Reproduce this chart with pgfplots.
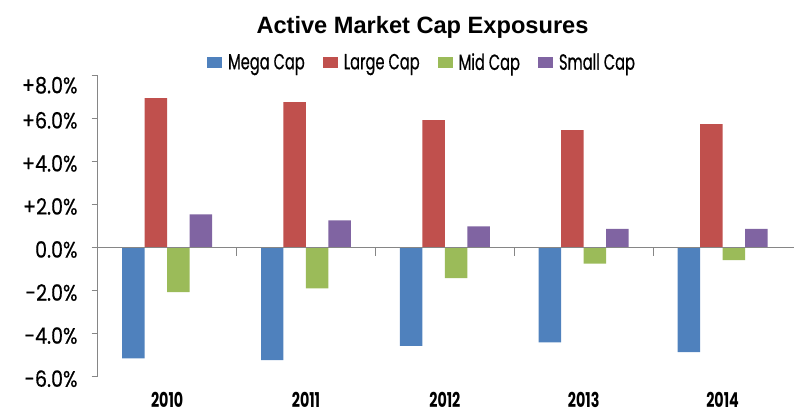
\documentclass[border=0pt]{standalone}
\usepackage{fontspec}
\usepackage{pgfplots}
\pgfplotsset{compat=1.18}
\newfontfamily\condfont[FakeStretch=0.67, FakeBold=0.5]{Poppins}
\newfontfamily\yearfont[FakeStretch=0.7]{Poppins}
\newfontfamily\tickfont[FakeStretch=0.85, FakeBold=0.5]{Poppins}
\newfontfamily\titlefont{Liberation Sans}
\definecolor{cmega}{HTML}{4F81BD}
\definecolor{clarge}{HTML}{C0504D}
\definecolor{cmid}{HTML}{9BBB59}
\definecolor{csmall}{HTML}{8064A2}
\definecolor{axgray}{RGB}{134,134,134}
\begin{document}
\begin{tikzpicture}
\path[use as bounding box] (0,0) rectangle (794bp,414bp);
\node[anchor=base, font=\titlefont\bfseries\fontsize{23.7}{28}\selectfont] at (422.5bp,380.7bp) {Active Market Cap Exposures};
\begin{axis}[
  at={(97.7bp,37.3bp)}, anchor=south west,
  width=694.3bp, height=301.4bp, scale only axis,
  xmin=-0.5, xmax=4.5, ymin=-6, ymax=8,
  axis x line=bottom, axis y line=left,
  axis line style={-},
  x axis line style={draw=none},
  y axis line style={axgray, line width=1bp},
  xtick={0,1,2,3,4},
  xticklabels={2010,2011,2012,2013,2014},
  xtick style={draw=none},
  ytick={-6,-4,-2,0,2,4,6},
  yticklabels={-6.0\%,-4.0\%,-2.0\%,0.0\%,+2.0\%,+4.0\%,+6.0\%},
  extra y ticks={8},
  extra y tick labels={+8.0\%},
  extra y tick style={yticklabel style={yshift=-8bp}},
  tick align=outside,
  major tick length=6bp,
  ytick style={axgray, line width=1bp},
  yticklabel style={font=\tickfont\fontsize{22.5}{26}\selectfont, inner sep=0pt, anchor=east, xshift=-14bp, yshift=-2bp},
  xticklabel style={font=\yearfont\bfseries\fontsize{20.5}{24}\selectfont, inner sep=0pt, anchor=north, yshift=-9bp},
  ybar=0pt, bar width=0.162,
  legend columns=4,
  legend style={at={(0.4657,1.043)}, anchor=center, draw=none, fill=none,
    font=\condfont\fontsize{22}{26}\selectfont,
    /tikz/every odd column/.append style={column sep=6bp},
    /tikz/every even column/.append style={column sep=18bp},
    nodes={inner sep=0pt}},
  legend image code/.code={\fill[#1] (0bp,-5.5bp) rectangle (15bp,5.5bp);},
  clip=false,
]
\addplot[fill=cmega, draw=none] coordinates {(0,-5.15) (1,-5.23) (2,-4.57) (3,-4.40) (4,-4.86)};
\addplot[fill=clarge, draw=none] coordinates {(0,6.94) (1,6.75) (2,5.92) (3,5.45) (4,5.73)};
\addplot[fill=cmid, draw=none] coordinates {(0,-2.07) (1,-1.90) (2,-1.42) (3,-0.75) (4,-0.58)};
\addplot[fill=csmall, draw=none] coordinates {(0,1.54) (1,1.26) (2,0.98) (3,0.87) (4,0.87)};
\legend{Mega Cap, Large Cap, Mid Cap, Small Cap}
\draw[axgray, line width=1bp] (axis cs:-0.5,0) -- (axis cs:4.5,0) -- ++(2bp,0bp);
\draw[axgray, line width=0.8bp] (axis cs:0.5,0) -- ++(0bp,-8bp);
\draw[axgray, line width=0.8bp] (axis cs:1.5,0) -- ++(0bp,-8bp);
\draw[axgray, line width=0.8bp] (axis cs:2.5,0) -- ++(0bp,-8bp);
\draw[axgray, line width=0.8bp] (axis cs:3.5,0) -- ++(0bp,-8bp);
\end{axis}
\end{tikzpicture}
\end{document}
